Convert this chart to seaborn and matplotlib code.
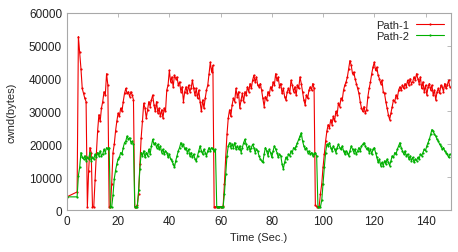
import numpy as np
import pandas as pd
import seaborn as sns
import matplotlib
matplotlib.use("Agg")
import matplotlib.pyplot as plt

# sample times: first sample at t=0, then every 0.5 s from t=4
time_start = [0.0]
time_grid = list(np.arange(4.0, 150.0, 0.5))
times = time_start + time_grid

# Path-1 cwnd (bytes)
path1 = [4000,
    5500, 52800, 48000, 43000, 37000, 35500, 34000, 33000, 1000, 12000,
    19000, 17500, 1000, 1000, 9000, 17000, 24000, 29000, 27000, 31000,
    33000, 36000, 35000, 41500, 38000, 1000, 1000, 8000, 17500, 20000,
    24000, 27000, 29500, 28500, 31000, 30000, 33000, 35500, 37000, 35500,
    36000, 34500, 36000, 35000, 33500, 1000, 1000, 1500, 5000, 14000,
    22000, 27000, 32500, 31000, 28000, 30500, 33000, 31500, 33500, 35000,
    32000, 30000, 33000, 29500, 31000, 28500, 30500, 28000, 31000, 30000,
    36500, 38000, 42500, 39000, 40500, 37500, 41000, 40000, 40500, 38000,
    39000, 36000, 37500, 33000, 36000, 37500, 35500, 38000, 36000, 37000,
    39500, 37000, 35000, 37000, 34000, 36500, 33000, 30000, 33500, 31000,
    34000, 36500, 38000, 41500, 45000, 42000, 44000, 1000, 1000, 1000,
    1000, 1000, 1000, 1000, 1200, 8000, 16000, 23000, 28000, 30500,
    28500, 32000, 34000, 33000, 37000, 34500, 36000, 31000, 33500, 35500,
    33000, 36000, 35000, 37500, 36000, 38500, 37000, 39500, 41000, 39000,
    40500, 38000, 37500, 38500, 36500, 34000, 31500, 34500, 33500, 36000,
    35000, 37500, 36500, 39000, 38000, 41500, 39500, 40500, 37500, 38500,
    35500, 37000, 34500, 33500, 36000, 37000, 35500, 39500, 38000, 36000,
    37500, 35000, 38000, 37000, 40500, 38500, 36000, 33500, 32000, 35000,
    34000, 36500, 37500, 36500, 38500, 37000, 1500, 1000, 1000, 1200,
    5000, 8000, 13000, 17000, 21000, 24000, 26000, 25000, 27500, 26000,
    28500, 27000, 30000, 29000, 32500, 31500, 34000, 33500, 36500, 38000,
    39000, 40500, 43000, 45500, 44000, 41500, 42000, 40000, 38500, 37000,
    35500, 33000, 31000, 30000, 31500, 29500, 30500, 34500, 37000, 39000,
    41500, 43500, 45000, 42500, 43500, 41000, 40000, 38500, 39500, 36000,
    35500, 33000, 31000, 29000, 27500, 29500, 31500, 33500, 33000, 35000,
    34000, 36500, 37500, 36500, 38000, 37000, 38500, 37500, 39500, 38000,
    40000, 38500, 39000, 40500, 39500, 41500, 40000, 38500, 40500, 37000,
    39000, 36000, 38000, 35000, 37500, 38500, 36500, 38000, 35000, 36500,
    33500, 36000, 37000, 35500, 38000, 37500, 36000, 38500, 37000, 38000,
    39500, 37500]

# Path-2 cwnd (bytes)
path2 = [4000,
    4000, 10500, 13000, 17500, 16000, 15500, 16500, 15000, 16000, 15500,
    17500, 15000, 16000, 15500, 17000, 16000, 17500, 16500, 18000, 16500,
    17000, 18500, 17500, 19000, 18500, 19000, 1000, 1000, 4500, 9500,
    12000, 14000, 15500, 16000, 17500, 17000, 19000, 20500, 21000, 22500,
    21500, 22000, 20500, 21000, 20000, 1000, 1000, 1000, 6000, 12500,
    17500, 16500, 18000, 16000, 17500, 16500, 18500, 17000, 19500, 21500,
    20000, 20500, 19000, 20000, 18500, 19500, 17500, 18500, 17000, 18000,
    17500, 16000, 17000, 15500, 15000, 14000, 13000, 15000, 16500, 18000,
    19000, 20500, 19500, 20000, 18500, 19000, 17500, 18500, 16500, 17500,
    16000, 17000, 15500, 15000, 16500, 18000, 19500, 18000, 17000, 18500,
    17500, 16500, 18000, 19000, 18000, 19000, 18500, 18000, 18500, 1000,
    1000, 1000, 1000, 1000, 1000, 5000, 11000, 16500, 19500, 20500,
    19000, 20000, 19000, 20500, 18500, 19500, 18500, 19500, 17500, 19000,
    20500, 21500, 20000, 18500, 19500, 18000, 19000, 20000, 19000, 17500,
    18500, 18000, 16500, 15500, 15000, 14500, 17000, 19000, 18000, 16500,
    18500, 17500, 16000, 18000, 19500, 18500, 17500, 16000, 17000, 16500,
    14000, 12500, 14500, 16000, 15500, 17000, 16500, 18000, 17500, 19000,
    18500, 19500, 20500, 21500, 22500, 23500, 21000, 19500, 18500, 19000,
    17500, 18000, 17000, 17500, 16500, 17000, 17500, 16500, 1000, 1000,
    1000, 3000, 8000, 13000, 17500, 20000, 19500, 20500, 19000, 18000,
    19500, 18500, 17500, 19000, 20000, 19000, 18500, 19500, 18000, 17000,
    18000, 17500, 16500, 18000, 19500, 18500, 17500, 18500, 17000, 18000,
    19000, 18000, 19500, 20000, 20500, 19500, 18500, 19000, 17500, 18500,
    17000, 18500, 19000, 17500, 16000, 14500, 15500, 13500, 14500, 13500,
    15000, 14000, 15500, 14500, 13500, 15000, 16500, 16000, 17500, 17000,
    18500, 19500, 20500, 19000, 18000, 17000, 18000, 16500, 17000, 15500,
    16500, 15000, 16000, 14500, 15500, 15000, 16000, 15500, 17000, 16500,
    17500, 18500, 18000, 19500, 20500, 21500, 23000, 24500, 24000, 23000,
    22500, 21500, 21000, 20000, 19500, 18500, 19000, 18000, 17500, 17000,
    16000, 17000]

series_names = ["Path-1", "Path-2"]
series_colors = ["#f00000", "#00b000"]

df = pd.concat([
    pd.DataFrame({"Time": times, "cwnd": path1, "Path": series_names[0]}),
    pd.DataFrame({"Time": times, "cwnd": path2, "Path": series_names[1]}),
])

sns.set_style("white")
plt.rcParams["font.family"] = ["Liberation Sans", "DejaVu Sans"]

fig, ax = plt.subplots(figsize=(4.58, 2.53), dpi=100)
fig.subplots_adjust(left=0.146, right=0.985, bottom=0.166, top=0.945)

sns.lineplot(data=df, x="Time", y="cwnd", hue="Path",
             palette=dict(zip(series_names, series_colors)),
             estimator=None, sort=False, linewidth=0.8,
             marker="o", markersize=1.6, markeredgewidth=0, ax=ax)

ax.set_xlim(0, 150)
ax.set_ylim(0, 60000)
ax.set_xticks(range(0, 141, 20))
ax.set_yticks(range(0, 60001, 10000))
ax.set_xlabel("Time (Sec.)", fontsize=8)
ax.set_ylabel("cwnd(bytes)", fontsize=8, labelpad=9)
ax.tick_params(direction="in", length=3, width=0.6, colors="#b0b0b0",
               labelcolor="#222222", labelsize=8.5, top=True, right=True)
for sp in ax.spines.values():
    sp.set_color("#a8a8a8")
    sp.set_linewidth(0.8)

leg = ax.legend(loc="upper right", frameon=False, markerfirst=False,
                fontsize=8, handlelength=2.6, labelspacing=0.15,
                borderaxespad=0.2, handletextpad=0.6, numpoints=1)

fig.savefig("out.png", dpi=100)
